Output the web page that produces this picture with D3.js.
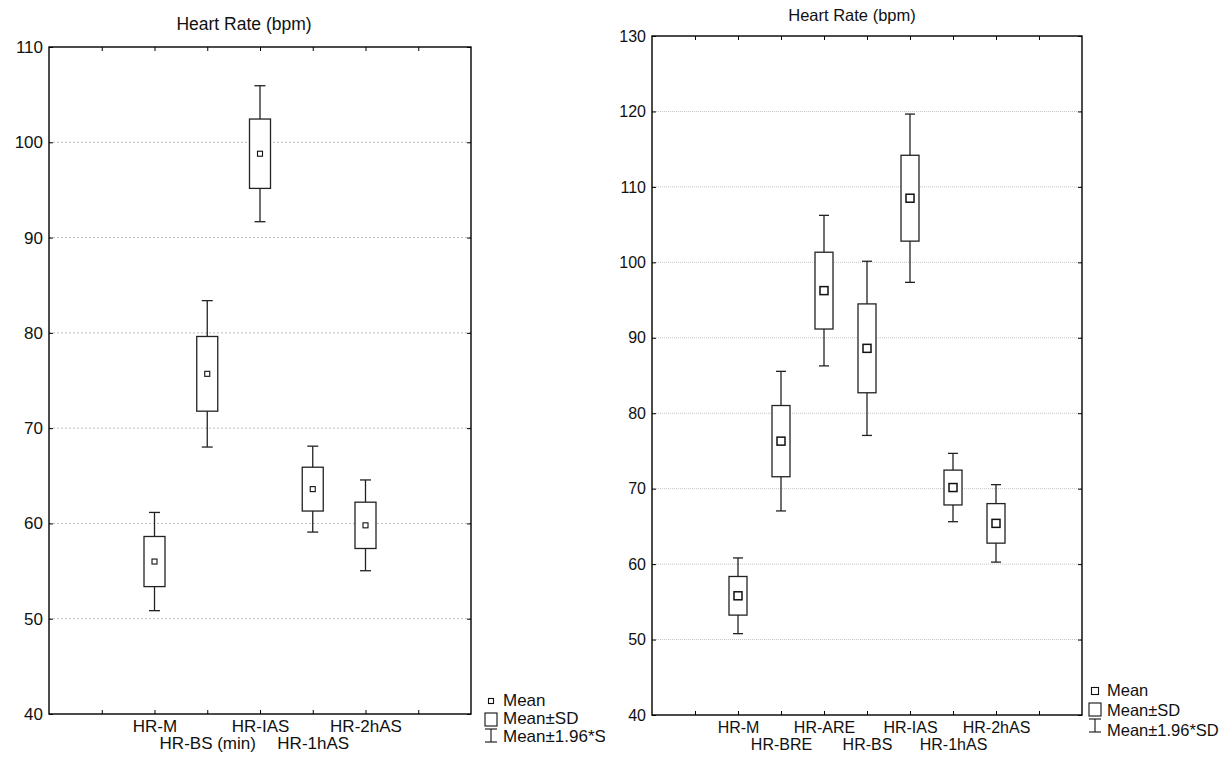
<!DOCTYPE html>
<html>
<head>
<meta charset="utf-8">
<script src="https://cdn.jsdelivr.net/npm/d3@7"></script>
<style>
  body { margin: 0; background: #fff; }
  svg { position: absolute; top: 0; font-family: "Liberation Sans", Arial, sans-serif; }
</style>
</head>
<body>
<div id="charts"></div>
<script>
// data (mean and SD, whiskers are mean +- 1.96*SD)
var leftCats = ["HR-M", "HR-BS (min)", "HR-IAS", "HR-1hAS", "HR-2hAS"];
var leftMean = [56.0, 75.7, 98.8, 63.6, 59.8];
var leftSD = [2.63, 3.92, 3.64, 2.3, 2.43];
var leftTicks = [40, 50, 60, 70, 80, 90, 100, 110];

var rightCats = ["HR-M", "HR-BRE", "HR-ARE", "HR-BS", "HR-IAS", "HR-1hAS", "HR-2hAS"];
var rightMean = [55.8, 76.3, 96.25, 88.6, 108.5, 70.15, 65.4];
var rightSD = [2.56, 4.72, 5.09, 5.89, 5.69, 2.31, 2.62];
var rightTicks = [40, 50, 60, 70, 80, 90, 100, 110, 120, 130];

var title = "Heart Rate (bpm)";
var legendLabels = ["Mean", "Mean\u00b1SD", "Mean\u00b11.96*SD"];

function drawChart(cfg) {
  var svg = d3.select("#charts").append("svg")
    .attr("width", cfg.width)
    .attr("height", 760)
    .style("left", cfg.offset + "px");

  var n = cfg.cats.length;
  var x = d3.scaleLinear().domain([0, n + 3]).range([cfg.left, cfg.right]);
  var y = d3.scaleLinear().domain(d3.extent(cfg.ticks)).range([cfg.bottom, cfg.top]);

  // grid lines
  svg.append("g")
    .selectAll("line")
    .data(cfg.ticks.slice(1, -1))
    .join("line")
    .attr("x1", cfg.left)
    .attr("x2", cfg.right)
    .attr("y1", function (d) { return y(d); })
    .attr("y2", function (d) { return y(d); })
    .attr("stroke", cfg.gridColor)
    .attr("stroke-dasharray", cfg.gridDash)
    .attr("stroke-width", 1);

  // y axis (left labels) and inner ticks on the right side
  var yAxis = svg.append("g")
    .attr("transform", "translate(" + cfg.left + ",0)")
    .call(d3.axisLeft(y).tickValues(cfg.ticks).tickSize(-4).tickPadding(6));
  yAxis.select(".domain").remove();
  yAxis.selectAll("text")
    .style("font-size", cfg.tickFont + "px")
    .style("font-family", "inherit")
    .attr("fill", "#111");
  yAxis.selectAll("line").attr("stroke", "#000");

  var yRight = svg.append("g")
    .attr("transform", "translate(" + cfg.right + ",0)")
    .call(d3.axisRight(y).tickValues(cfg.ticks).tickSize(-4).tickFormat(""));
  yRight.select(".domain").remove();

  // x axis ticks top and bottom, pointing inwards
  var xTicks = d3.range(1, n + 3);
  var xb = svg.append("g")
    .attr("transform", "translate(0," + cfg.bottom + ")")
    .call(d3.axisBottom(x).tickValues(xTicks).tickSize(-4)
      .tickFormat(function (d) { return d >= 2 && d < n + 2 ? cfg.cats[d - 2] : ""; }));
  xb.select(".domain").remove();
  xb.selectAll("text")
    .style("font-size", cfg.labelFont + "px")
    .style("font-family", "inherit")
    .attr("fill", "#111")
    .attr("dy", null)
    .attr("y", function (d) { return (d - 2) % 2 === 0 ? cfg.row1 : cfg.row2; });

  var xt = svg.append("g")
    .attr("transform", "translate(0," + cfg.top + ")")
    .call(d3.axisTop(x).tickValues(xTicks).tickSize(-4).tickFormat(""));
  xt.select(".domain").remove();

  // frame
  svg.append("rect")
    .attr("x", cfg.left)
    .attr("y", cfg.top)
    .attr("width", cfg.right - cfg.left)
    .attr("height", cfg.bottom - cfg.top)
    .attr("fill", "none")
    .attr("stroke", "#000")
    .attr("stroke-width", 1.4);

  // whiskers, boxes and mean markers
  var rows = cfg.cats.map(function (c, i) {
    return { cat: c, pos: i + 2, mean: cfg.mean[i], sd: cfg.sd[i] };
  });
  var g = svg.append("g").selectAll("g").data(rows).join("g");
  g.append("line")
    .attr("x1", function (d) { return x(d.pos); })
    .attr("x2", function (d) { return x(d.pos); })
    .attr("y1", function (d) { return y(d.mean + 1.96 * d.sd); })
    .attr("y2", function (d) { return y(d.mean - 1.96 * d.sd); })
    .attr("stroke", "#222").attr("stroke-width", 1.3);
  [1.96, -1.96].forEach(function (k) {
    g.append("line")
      .attr("x1", function (d) { return x(d.pos) - cfg.capW / 2; })
      .attr("x2", function (d) { return x(d.pos) + cfg.capW / 2; })
      .attr("y1", function (d) { return y(d.mean + k * d.sd); })
      .attr("y2", function (d) { return y(d.mean + k * d.sd); })
      .attr("stroke", "#222").attr("stroke-width", 1.3);
  });
  g.append("rect")
    .attr("x", function (d) { return x(d.pos) - cfg.boxW / 2; })
    .attr("width", cfg.boxW)
    .attr("y", function (d) { return y(d.mean + d.sd); })
    .attr("height", function (d) { return y(d.mean - d.sd) - y(d.mean + d.sd); })
    .attr("fill", "#fff").attr("stroke", "#222").attr("stroke-width", 1.3);
  g.append("rect")
    .attr("x", function (d) { return x(d.pos) - cfg.markW / 2; })
    .attr("y", function (d) { return y(d.mean) - cfg.markW / 2; })
    .attr("width", cfg.markW)
    .attr("height", cfg.markW)
    .attr("fill", "#fff").attr("stroke", "#111").attr("stroke-width", cfg.markStroke);

  // title
  svg.append("text")
    .attr("x", cfg.titleX)
    .attr("y", cfg.titleY)
    .attr("text-anchor", "middle")
    .style("font-size", cfg.titleFont + "px")
    .attr("fill", "#111")
    .text(title);

  // legend
  var lg = svg.append("g").attr("transform", "translate(" + cfg.legX + "," + cfg.legY + ")");
  lg.append("rect")
    .attr("x", -cfg.legMark / 2).attr("y", -cfg.legMark / 2)
    .attr("width", cfg.legMark).attr("height", cfg.legMark)
    .attr("fill", "#fff").attr("stroke", "#111").attr("stroke-width", 1.1);
  lg.append("rect")
    .attr("x", -6).attr("y", 12).attr("width", 12).attr("height", 13)
    .attr("fill", "#fff").attr("stroke", "#111").attr("stroke-width", 1.1);
  lg.append("line").attr("x1", 0).attr("x2", 0).attr("y1", 28).attr("y2", 41)
    .attr("stroke", "#111").attr("stroke-width", 1.1);
  lg.append("line").attr("x1", -6).attr("x2", 6).attr("y1", 28).attr("y2", 28)
    .attr("stroke", "#111").attr("stroke-width", 1.1);
  lg.append("line").attr("x1", -6).attr("x2", 6).attr("y1", 41).attr("y2", 41)
    .attr("stroke", "#111").attr("stroke-width", 1.1);
  lg.selectAll("text.leg")
    .data(legendLabels)
    .join("text")
    .attr("class", "leg")
    .attr("x", 12)
    .attr("y", function (d, i) { return 5 + i * cfg.legStep; })
    .style("font-size", cfg.legFont + "px")
    .attr("fill", "#111")
    .text(function (d) { return d; });
}

drawChart({
  offset: 0, width: 605,
  cats: leftCats, mean: leftMean, sd: leftSD, ticks: leftTicks,
  left: 49, right: 471, top: 47, bottom: 714,
  gridColor: "#bdbdbd", gridDash: "2,2",
  tickFont: 17, labelFont: 17, titleFont: 17.5, legFont: 17,
  row1: 18, row2: 35,
  boxW: 21, capW: 11, markW: 5, markStroke: 1.1,
  titleX: 244, titleY: 30,
  legX: 491, legY: 701, legMark: 5, legStep: 18
});

drawChart({
  offset: 608, width: 619,
  cats: rightCats, mean: rightMean, sd: rightSD, ticks: rightTicks,
  left: 44, right: 474, top: 36, bottom: 715,
  gridColor: "#c4c4c4", gridDash: "1,1",
  tickFont: 16, labelFont: 16, titleFont: 16.5, legFont: 16.5,
  row1: 18, row2: 35,
  boxW: 18, capW: 10, markW: 8, markStroke: 1.5,
  titleX: 244, titleY: 21,
  legX: 487, legY: 691, legMark: 7, legStep: 20
});
</script>
</body>
</html>
